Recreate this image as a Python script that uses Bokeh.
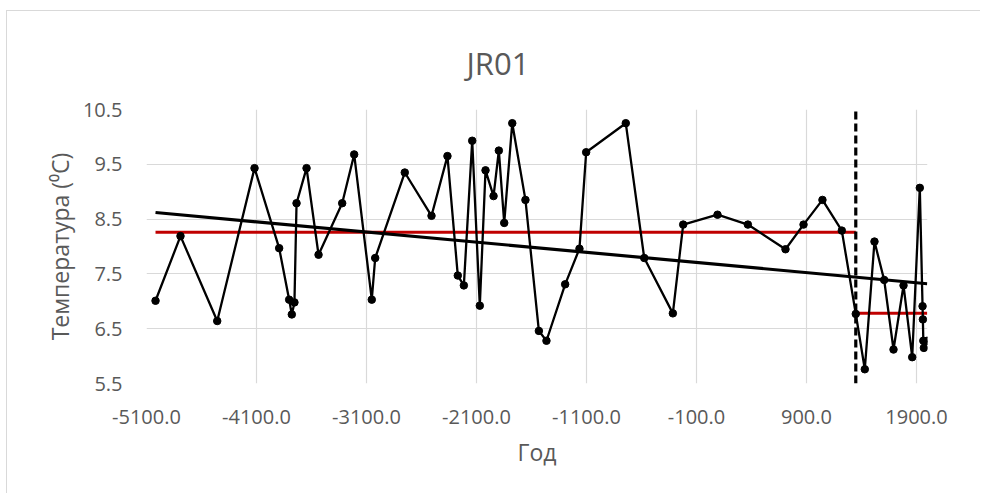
from bokeh.plotting import figure
from bokeh.models import Range1d, FixedTicker, NumeralTickFormatter
from bokeh.embed import file_html
from bokeh.resources import INLINE

# Reconstructed temperature series for core JR01 (year, deg C)
years = [-5018, -4791, -4457, -4118, -3894, -3803, -3779, -3755, -3736, -3645,
         -3536, -3321, -3212, -3052, -3021, -2752, -2509, -2364, -2270, -2215,
         -2139, -2070, -2018, -1945, -1897, -1848, -1775, -1655, -1533, -1464,
         -1294, -1164, -1103, -743, -575, -315, -221, 91, 367, 709,
         873, 1045, 1221, 1348, 1430, 1518, 1606, 1691, 1782, 1861,
         1930, 1955, 1958, 1962, 1967, 1997]
temps = [7.01, 8.19, 6.64, 9.43, 7.97, 7.03, 6.76, 6.98, 8.79, 9.43,
         7.85, 8.79, 9.68, 7.03, 7.79, 9.35, 8.56, 9.65, 7.47, 7.29,
         9.93, 6.92, 9.39, 8.92, 9.75, 8.43, 10.25, 8.85, 6.46, 6.28,
         7.31, 7.96, 9.72, 10.25, 7.79, 6.78, 8.40, 8.58, 8.40, 7.95,
         8.40, 8.85, 8.29, 6.77, 5.76, 8.09, 7.39, 6.12, 7.29, 5.98,
         9.07, 6.91, 6.67, 6.28, 6.15, 6.28]

# Period means before / after the break, and the linear trend end values
break_year = 1348
mean_before = 8.26
mean_after = 6.78
trend_values = [8.62, 7.32]

x_ticks = [-5100, -4100, -3100, -2100, -1100, -100, 900, 1900]
y_ticks = [5.5, 6.5, 7.5, 8.5, 9.5, 10.5]
x_limits = (-5100, 2000)
y_limits = (5.5, 10.5)

FONT = "Open Sans"
TEXT = "#595959"
GRID = "#d9d9d9"

p = figure(width=974, height=483, output_backend="svg", toolbar_location=None,
           x_range=Range1d(*x_limits), y_range=Range1d(*y_limits),
           min_border_left=139, min_border_right=54,
           min_border_top=98, min_border_bottom=111,
           background_fill_color="white", border_fill_color="white",
           outline_line_color=None,
           styles={"margin-left": "6px", "margin-top": "10px",
                   "border-left": f"1px solid {GRID}",
                   "border-top": f"1px solid {GRID}"})

p.title.text = "JR01"
p.title.align = "left"
p.title.offset = 320
p.title.standoff = 51
p.title.text_font = FONT
p.title.text_font_size = "31px"
p.title.text_font_style = "normal"
p.title.text_color = TEXT

for ax in (p.xaxis[0], p.yaxis[0]):
    ax.axis_line_color = None
    ax.major_tick_line_color = None
    ax.minor_tick_line_color = None
    ax.major_label_text_font = FONT
    ax.major_label_text_font_size = "20px"
    ax.major_label_text_color = TEXT
    ax.axis_label_text_font = FONT
    ax.axis_label_text_font_size = "23px"
    ax.axis_label_text_font_style = "normal"
    ax.axis_label_text_color = TEXT
    ax.formatter = NumeralTickFormatter(format="0.0")

p.xaxis.ticker = FixedTicker(ticks=x_ticks)
p.yaxis.ticker = FixedTicker(ticks=y_ticks)
p.xaxis.axis_label = "Год"
p.yaxis.axis_label = "Температура (⁰C)"
p.xaxis.major_label_standoff = 20
p.yaxis.major_label_standoff = 18
p.xaxis.axis_label_standoff = 9
p.yaxis.axis_label_standoff = 4

p.xgrid.ticker = FixedTicker(ticks=x_ticks)
p.ygrid.ticker = FixedTicker(ticks=y_ticks)
p.grid.grid_line_color = GRID
p.grid.grid_line_width = 1.2

red = "#c00000"
# mean levels of the two periods
p.line([years[0], break_year], [mean_before, mean_before], line_color=red, line_width=3)
p.line([break_year, years[-1]], [mean_after, mean_after], line_color=red, line_width=3)

# temperature series
p.line(years, temps, line_color="black", line_width=2.3)
p.scatter(years, temps, size=7.5, color="black")

# linear trend
p.line([years[0], years[-1]], trend_values, line_color="black", line_width=3.2)

# break marker
p.line([break_year, break_year], list(y_limits), line_color="black",
       line_width=3.2, line_dash="8 4")

open("out.html", "w").write(file_html(p, INLINE))
